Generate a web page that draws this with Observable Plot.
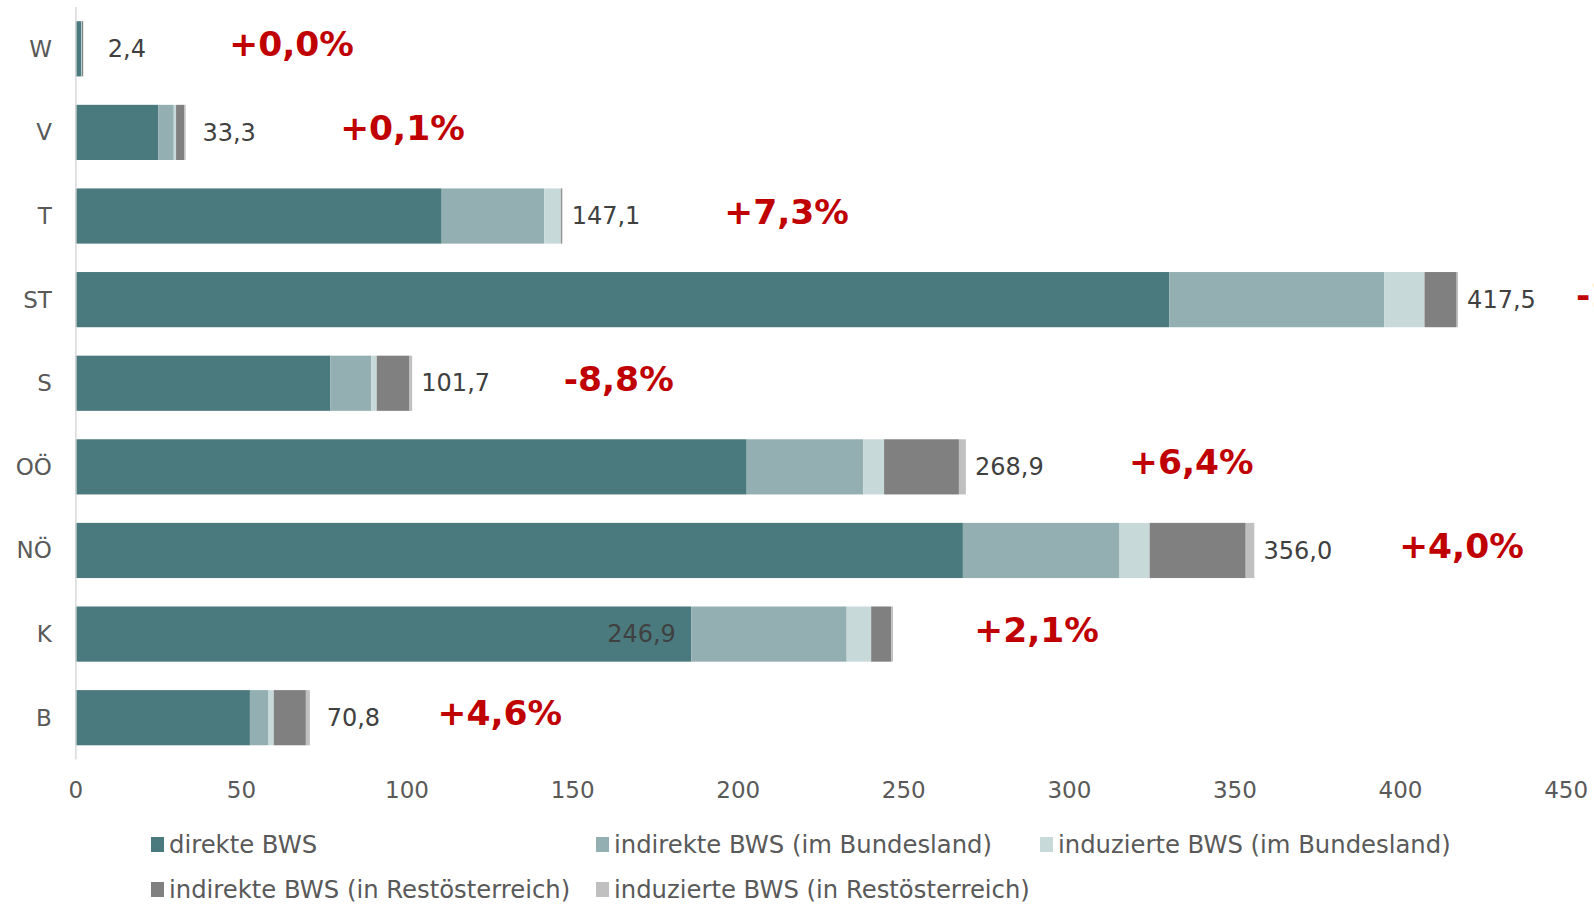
<!DOCTYPE html>
<html><head><meta charset="utf-8">
<script src="https://cdn.jsdelivr.net/npm/d3@7"></script>
<script src="https://cdn.jsdelivr.net/npm/@observablehq/plot@0.6"></script>
<style>
html,body{margin:0;background:#fff;overflow:hidden;font-family:"DejaVu Sans",Verdana,sans-serif;}
#wrap{position:relative;width:1594px;height:904px;overflow:hidden}
#legend .leg{position:absolute;font-size:24.3px;color:#595959;display:flex;align-items:center;white-space:nowrap;height:30px}
#legend .sw{width:13px;height:15px;margin-right:5px;flex:none}
</style></head><body><div id="wrap"><div id="chart"></div><div id="legend"></div></div>
<script>
const regions = ["W","V","T","ST","S","OÖ","NÖ","K","B"];
const seriesNames = ["direkte BWS","indirekte BWS (im Bundesland)","induzierte BWS (im Bundesland)","indirekte BWS (in Restösterreich)","induzierte BWS (in Restösterreich)"];
const seriesColors = ["#4a7a7e","#93afb2","#c8d9da","#808080","#c0c0c0"];
const direkte        = [1.8, 25.0, 110.6, 330.3, 77.0, 202.7, 268.0, 186.0, 52.7];
const indirekteBL    = [0.1,  4.7,  31.0,  64.9, 12.3,  35.2,  47.3,  46.9,  5.6];
const induzierteBL   = [0.1,  0.7,   5.0,  12.2,  1.7,   6.3,   9.1,   7.4,  1.6];
const indirekteRest  = [0.3,  2.4,   0.3,   9.7,  9.9,  22.6,  29.0,   6.1,  9.7];
const induzierteRest = [0.1,  0.5,   0.2,   0.4,  0.8,   2.1,   2.6,   0.5,  1.2];
const totals         = [2.4, 33.3, 147.1, 417.5, 101.7, 268.9, 356.0, 246.9, 70.8];
const changes        = ["+0,0%","+0,1%","+7,3%","-1,3%","-8,8%","+6,4%","+4,0%","+2,1%","+4,6%"];
const changeLabelAt  = [46.3, 79.8, 195.8, 453.0, 147.3, 318.0, 399.6, 271.3, 109.2];
const totalLabelInside = [false,false,false,false,false,false,false,true,false];
const xTicks = [0,50,100,150,200,250,300,350,400,450];

const seriesValues = [direkte, indirekteBL, induzierteBL, indirekteRest, induzierteRest];
const rows = [];
seriesNames.forEach((s, j) => regions.forEach((r, i) => rows.push({region: r, series: s, value: seriesValues[j][i]})));
const labels = regions.map((r, i) => ({region: r, total: totals[i], direct: direkte[i], inside: totalLabelInside[i], change: changes[i], at: changeLabelAt[i]}));
const fmt = v => d3.format(".1f")(v).replace(".", ",");

const chart = Plot.plot({
  width: 1594, height: 815,
  marginLeft: 75.4, marginRight: 28.4, marginTop: 7, marginBottom: 55.5,
  style: {fontFamily: "'DejaVu Sans', Verdana, sans-serif", fontSize: "23px", color: "#595959", background: "#fff"},
  x: {domain: [0, 450], axis: null},
  y: {domain: regions, padding: 0.34, paddingOuter: 0.17, round: false, axis: null},
  color: {domain: seriesNames, range: seriesColors},
  marks: [
    Plot.barX(rows, Plot.stackX({y: "region", x: "value", fill: "series", order: seriesNames})),
    Plot.ruleX([0], {stroke: "#d9d9d9", strokeWidth: 1.5}),
    Plot.axisY({tickSize: 0, tickPadding: 24, fontSize: 23, fill: "#595959", label: null}),
    Plot.axisX({ticks: xTicks, tickSize: 0, tickPadding: 22, fontSize: 23, fill: "#595959", label: null, tickFormat: d => String(d)}),
    Plot.text(labels.filter(d => !d.inside), {x: "total", y: "region", text: d => fmt(d.total), dx: 43, textAnchor: "middle", fill: "#404040", fontSize: 24}),
    Plot.text(labels.filter(d => d.inside), {x: "direct", y: "region", text: d => fmt(d.total), dx: -16, textAnchor: "end", fill: "#404040", fontSize: 24}),
    Plot.text(labels, {x: "at", y: "region", text: "change", textAnchor: "start", dy: -4, fill: "#c00000", fontSize: 34.5, fontWeight: "bold"})
  ]
});
document.getElementById("chart").appendChild(chart);

const legend = document.getElementById("legend");
const cols = [151, 596, 1040];
seriesNames.forEach((s, i) => {
  const row = Math.floor(i / 3), col = i % 3;
  const el = document.createElement("div");
  el.className = "leg";
  el.style.left = cols[col] + "px";
  el.style.top = (829 + row * 45) + "px";
  el.innerHTML = `<span class="sw" style="background:${seriesColors[i]}"></span><span>${s}</span>`;
  legend.appendChild(el);
});
</script>
</body></html>
